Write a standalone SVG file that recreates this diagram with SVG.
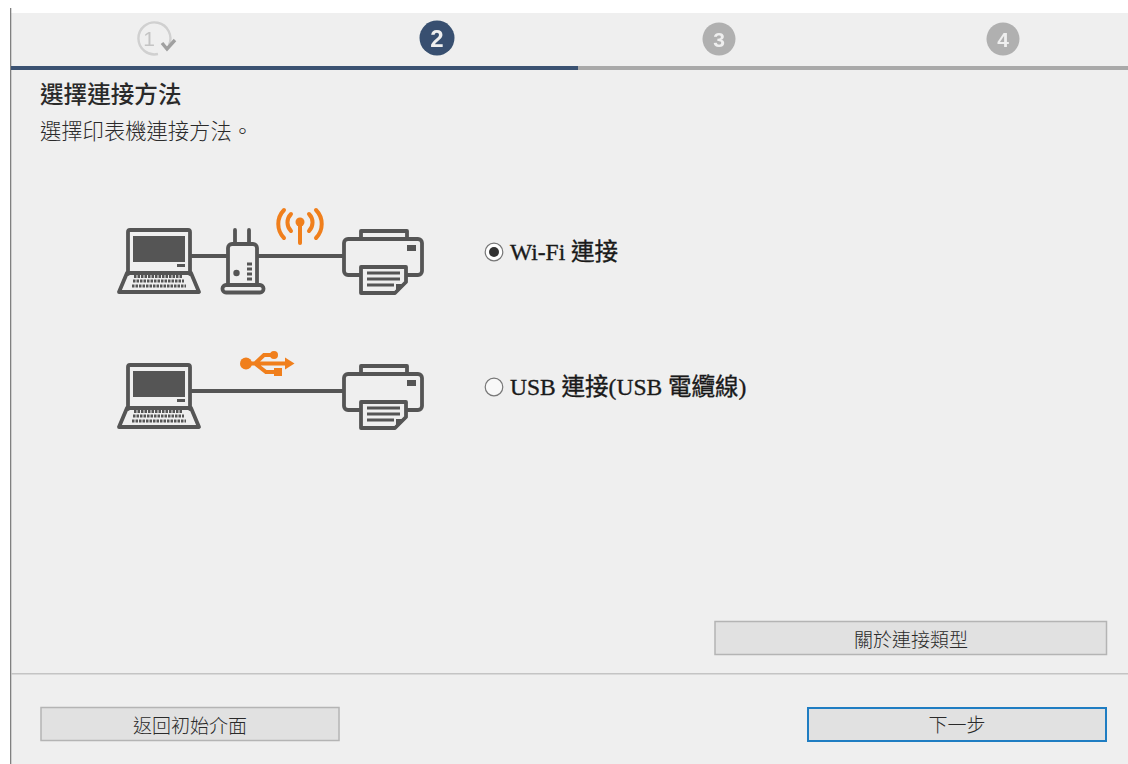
<svg xmlns="http://www.w3.org/2000/svg" width="1128" height="764" viewBox="0 0 1128 764">
<style>
.cjk{font-family:"Noto Sans CJK TC","Noto Sans CJK SC",sans-serif;fill:#2a2a2a}
.lbl{font-family:"Liberation Serif","Noto Sans CJK TC",serif;font-size:23.500px;fill:#1a1a1a;font-weight:400;stroke:#1a1a1a;stroke-width:.35}
.num{font-family:"Liberation Sans",sans-serif;font-weight:700;font-size:24px;text-anchor:middle;fill:#efefef}
.num2{font-size:21px}
.btn{fill:#e1e1e1;stroke:#b4b4b4;stroke-width:1.5}
.btxt{font-size:19px;text-anchor:middle;font-weight:300}
.ic{fill:none;stroke:#555;stroke-width:3.800;stroke-linejoin:round;stroke-linecap:round}
.icf{fill:#555}
.or{fill:none;stroke:#f07f1c;stroke-width:4;stroke-linecap:round}
.orf{fill:#f07f1c}
.wire{stroke:#555;stroke-width:3.800;fill:none}
.soft{filter:url(#soft)}
</style>
<defs>
<filter id="soft" x="-5%" y="-5%" width="110%" height="110%"><feGaussianBlur stdDeviation="0.45"/></filter>
<g id="laptop">
<path class="ic" d="M128 274V232a2 2 0 0 1 2-2H188a2 2 0 0 1 2 2V274"/>
<rect class="icf" x="133" y="236" width="52" height="26"/>
<rect class="icf" x="177" y="264" width="8" height="3"/>
<path class="ic" d="M127 273H191L199 292H119Z"/>
<path d="M134 276.500H182M133 281H184M132 286H186" stroke="#555" stroke-width="3" stroke-dasharray="2.500 1" fill="none"/>
</g>
<g id="printer">
<path class="ic" d="M361 238V231H407V238"/>
<path class="ic" d="M360 275H348a4 4 0 0 1-4-4V243a4 4 0 0 1 4-4H418a4 4 0 0 1 4 4V271a4 4 0 0 1-4 4H407"/>
<rect class="icf" x="407" y="245" width="9" height="6"/>
<path class="ic" d="M361 267H406V282L395 293H361Z"/>
<path d="M367 273H400M367 279H400M367 285H394" stroke="#555" stroke-width="3" fill="none"/>
<path class="icf" d="M396 284H405L396 292Z"/>
</g>
</defs>
<rect width="1128" height="764" fill="#fff"/>
<rect x="10" y="13" width="1118" height="751" fill="#efefef"/>
<rect x="10" y="8" width="1.3" height="756" fill="#808080"/>

<g id="steps">
<g id="step1" class="soft">
<path d="M169 45A16 16 0 1 0 158 54" fill="none" stroke="#d0d0d0" stroke-width="2.400"/>
<text x="149" y="46" font-family="Liberation Sans,sans-serif" font-size="21" fill="#c4c4c4" text-anchor="middle">1</text>
<path d="M162 43L167 49L175 40" fill="none" stroke="#a0a0a0" stroke-width="3.400"/>
</g>
<g id="step2" class="soft"><circle cx="437" cy="38" r="17.500" fill="#37506f"/><text class="num" x="437" y="46.500">2</text></g>
<g id="step3" class="soft"><circle cx="719" cy="39" r="16.500" fill="#b0b0b0"/><text class="num num2" x="719" y="46.500">3</text></g>
<g id="step4" class="soft"><circle cx="1003" cy="39" r="16.500" fill="#b0b0b0"/><text class="num num2" x="1003" y="46.500">4</text></g>
<rect x="11" y="66" width="1117" height="4" fill="#a9a9a9"/>
<rect x="11" y="66" width="567" height="4" fill="#3b5272"/>
</g>

<text id="title" class="cjk" x="40" y="103" font-size="23.600" font-weight="500" fill="#111">選擇連接方法</text>
<text id="subtitle" class="cjk" x="40" y="139" font-size="21.300" font-weight="300">選擇印表機連接方法。</text>

<g id="connectors" class="soft">
<path class="wire" d="M191 256H227M258 256H343"/>
<path class="wire" d="M191 391H343"/>
</g>

<g id="wifi-diagram" class="soft">
<use href="#laptop"/>
<g id="router">
<path class="ic" d="M235 243V230M249 243V230"/>
<path class="ic" d="M228 285V248a4 4 0 0 1 4-4H253a4 4 0 0 1 4 4V285"/>
<rect class="ic" x="222.500" y="285" width="41" height="7.500" rx="3.500"/>
<circle class="icf" cx="236.500" cy="273" r="3.200"/>
<path d="M247 264H252M247 269H252M247 274H252M247 279H252" stroke="#555" stroke-width="3"/>
</g>
<use href="#printer"/>
<g id="wifi-signal">
<circle class="orf" cx="300" cy="222" r="4.500"/>
<path class="or" d="M300 224V243"/>
<path class="or" d="M291 214A12 12 0 0 0 291 231M309 214A12 12 0 0 1 309 231"/>
<path class="or" d="M284 210A20 20 0 0 0 284 238M316 210A20 20 0 0 1 316 238"/>
</g>
</g>

<g id="usb-diagram" class="soft">
<use href="#laptop" y="135"/>
<use href="#printer" y="135"/>
<g id="usb-symbol">
<circle class="orf" cx="246" cy="363.500" r="6"/>
<path class="or" d="M246 363.500H288M255 363.500L264 355H272M255 363.500L266 372H274"/>
<circle class="orf" cx="274" cy="355" r="4"/>
<rect class="orf" x="274" y="368" width="8" height="8"/>
<path class="orf" d="M285 357.500L294.500 363.500L285 369.500Z"/>
</g>
</g>

<g id="opt-wifi">
<circle cx="494" cy="252" r="8.800" fill="#fff" stroke="#777" stroke-width="1.200"/>
<circle cx="494" cy="252" r="5" fill="#333"/>
<text class="lbl" x="510" y="260">Wi-Fi 連接</text>
</g>
<g id="opt-usb">
<circle cx="494" cy="387" r="8.800" fill="#f8f8f8" stroke="#777" stroke-width="1.200"/>
<text class="lbl" x="510" y="395">USB 連接(USB 電纜線)</text>
</g>

<g id="btn-about">
<rect class="btn" x="715" y="621.500" width="391.500" height="33"/>
<text class="cjk btxt" x="911" y="647">關於連接類型</text>
</g>
<rect x="11" y="673" width="1117" height="1.500" fill="#c4c4c4"/>
<g id="btn-back">
<rect class="btn" x="41" y="707.500" width="298" height="33"/>
<text class="cjk btxt" x="190" y="733">返回初始介面</text>
</g>
<g id="btn-next">
<rect x="808" y="708" width="298" height="33" fill="#e1e1e1" stroke="#1f7dc2" stroke-width="2"/>
<text class="cjk btxt" x="957" y="732">下一步</text>
</g>
</svg>
